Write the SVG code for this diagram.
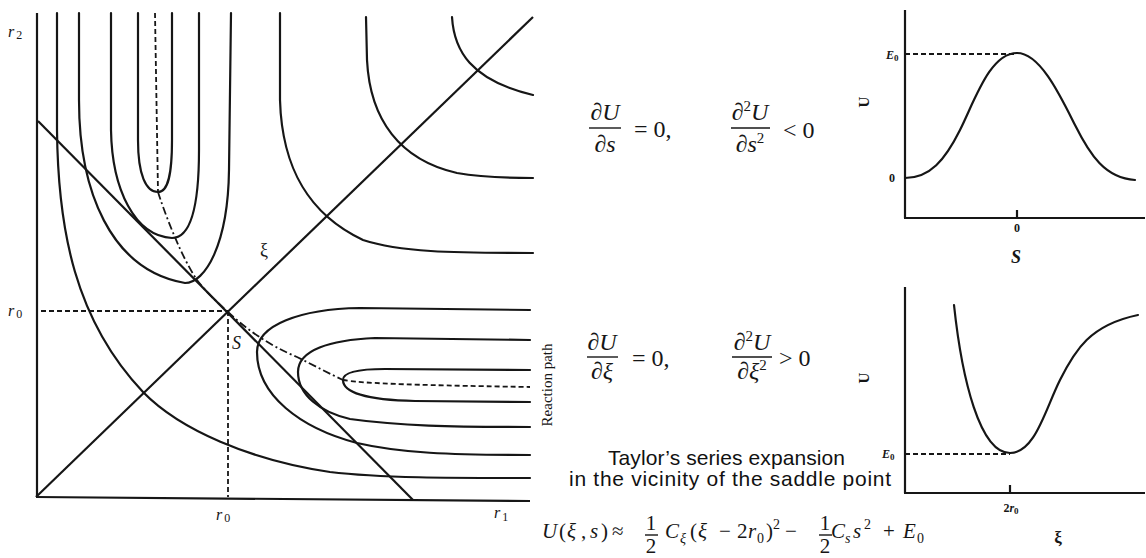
<svg xmlns="http://www.w3.org/2000/svg" width="1146" height="558" viewBox="0 0 1146 558">
<style>
.ln{fill:none;stroke:#161616;stroke-width:2.2;stroke-linecap:round}
.ax{fill:none;stroke:#161616;stroke-width:2.2}
.dash{fill:none;stroke:#161616;stroke-width:1.8;stroke-dasharray:5 3}
.dd{fill:none;stroke:#161616;stroke-width:1.8;stroke-dasharray:8 3 2 3}
.bar{stroke:#161616;stroke-width:1.4}
.serif{font-family:"Liberation Serif","Times New Roman",serif;fill:#161616}
.it{font-style:italic}
.eq{font-family:"Liberation Serif","Times New Roman",serif;font-size:24px;fill:#161616}
.eqb{font-family:"Liberation Serif","Times New Roman",serif;font-size:21px;fill:#161616}
.plbl{font-family:"Liberation Serif","Times New Roman",serif;font-weight:bold;fill:#161616}
.sans{font-family:"Liberation Sans",Arial,sans-serif;font-size:21px;fill:#111}
</style>

<g id="contour-plot">
  <line class="ax" x1="37" y1="13" x2="37" y2="497"/>
  <line class="ax" x1="36" y1="497" x2="530" y2="501"/>
  <line class="ax" x1="36" y1="497" x2="533" y2="17"/>
  <line class="ax" x1="38" y1="121" x2="413" y2="500"/>
  <line class="dash" x1="41" y1="311" x2="228" y2="311"/>
  <line class="dash" x1="228" y1="311" x2="228" y2="497"/>
  <path class="ln" d="M57,13 L57,130 C58,230 75,320 143,392 C180,430 250,460 330,472 C380,478 450,478 530,478"/>
  <path class="ln" d="M79,13 L79,100 C79,190 110,270 185,283 C205,283 228,245 229,170 L231,13"/>
  <path class="ln" d="M111,13 L111,130 C112,190 135,236 172,238 C190,238 199,210 199,150 L199,13"/>
  <path class="ln" d="M138,13 L138,140 C138,175 146,192 158,192 C168,192 172,175 172,140 L172,13"/>
  <path class="ln" d="M280,13 L280,100 C282,170 310,215 363,240 C400,252 450,253 533,253"/>
  <path class="ln" d="M366,17 L367,60 C370,120 400,160 457,173 C480,177 505,178 533,178"/>
  <path class="ln" d="M452,17 C454,50 470,80 533,95"/>
  <path class="ln" d="M530,310 L360,308 C300,309 257,325 257,352 C257,395 300,428 357,443 C400,453 450,455 530,455"/>
  <path class="ln" d="M530,340 L375,338 C330,340 298,350 298,372 C298,395 320,412 350,419 C400,426 450,427 530,427"/>
  <path class="ln" d="M530,370 L385,369 C360,369 343,372 343,380 C343,392 365,400 415,401 L530,402"/>
  <path class="dash" d="M155,13 L158,192"/>
  <path class="dd" d="M158,192 C163,208 180,255 197,280 C206,292 216,301 228,312"/>
  <path class="dd" d="M228,312 C245,328 268,345 297,357 C315,366 330,374 343,380"/>
  <path class="dash" d="M343,380 C360,383 400,385 530,387"/>
  <text class="serif it" x="8" y="37" font-size="16">r<tspan dx="2" dy="2" font-size="12" font-style="normal">2</tspan></text>
  <text class="serif it" x="8" y="316" font-size="16">r<tspan dx="2" dy="2" font-size="12" font-style="normal">0</tspan></text>
  <text class="serif it" x="216" y="520" font-size="16">r<tspan dx="2" dy="2" font-size="12" font-style="normal">0</tspan></text>
  <text class="serif it" x="494" y="518" font-size="16">r<tspan dx="2" dy="3" font-size="12" font-style="normal">1</tspan></text>
  <text class="serif it" x="232" y="349" font-size="18">S</text>
  <text class="serif" x="260" y="256" font-size="18">ξ</text>
  <text class="serif" transform="translate(552,385) rotate(-90)" text-anchor="middle" font-size="15">Reaction path</text>
</g>

<g id="eq-s">
  <text class="eq" x="605" y="120" text-anchor="middle">∂<tspan class="it">U</tspan></text>
  <line class="bar" x1="589" y1="128" x2="621" y2="128"/>
  <text class="eq" x="605" y="152" text-anchor="middle">∂<tspan class="it">s</tspan></text>
  <text class="eq" x="634" y="137">= 0,</text>
  <text class="eq" x="750" y="120" text-anchor="middle">∂<tspan dy="-9" font-size="15">2</tspan><tspan dy="9" class="it">U</tspan></text>
  <line class="bar" x1="731" y1="128" x2="770" y2="128"/>
  <text class="eq" x="750" y="152" text-anchor="middle">∂<tspan class="it">s</tspan><tspan dy="-9" font-size="15">2</tspan></text>
  <text class="eq" x="783" y="138">&lt; 0</text>
</g>

<g id="eq-xi">
  <text class="eq" x="602" y="350" text-anchor="middle">∂<tspan class="it">U</tspan></text>
  <line class="bar" x1="587" y1="357" x2="618" y2="357"/>
  <text class="eq" x="602" y="379" text-anchor="middle">∂<tspan class="it">ξ</tspan></text>
  <text class="eq" x="632" y="366">= 0,</text>
  <text class="eq" x="752" y="350" text-anchor="middle">∂<tspan dy="-9" font-size="15">2</tspan><tspan dy="9" class="it">U</tspan></text>
  <line class="bar" x1="732" y1="357" x2="772" y2="357"/>
  <text class="eq" x="752" y="379" text-anchor="middle">∂<tspan class="it">ξ</tspan><tspan dy="-9" font-size="15">2</tspan></text>
  <text class="eq" x="779" y="366">&gt; 0</text>
</g>

<g id="plot-s">
  <line class="ax" x1="905" y1="10" x2="905" y2="218"/>
  <line class="ax" x1="904" y1="218" x2="1145" y2="218"/>
  <line class="ax" x1="1017" y1="210" x2="1017" y2="218"/>
  <line class="dash" x1="905" y1="54" x2="1017" y2="54"/>
  <path class="ln" d="M905,178 C930,178 945,160 960,130 C975,100 990,53 1017,53 C1040,53 1060,95 1075,125 C1090,155 1105,178 1135,180"/>
  <text class="plbl it" x="886" y="59" font-size="12">E<tspan dy="2" font-size="9" font-style="normal">0</tspan></text>
  <text class="plbl" x="889" y="182" font-size="12">0</text>
  <text class="plbl" x="1017" y="232" font-size="12" text-anchor="middle">0</text>
  <text class="plbl it" x="1016" y="263" font-size="18" text-anchor="middle">S</text>
  <text class="plbl" transform="translate(869,102) rotate(-90)" text-anchor="middle" font-size="15">U</text>
</g>

<g id="plot-xi">
  <line class="ax" x1="905" y1="287" x2="905" y2="493"/>
  <line class="ax" x1="904" y1="493" x2="1145" y2="493"/>
  <line class="ax" x1="1010" y1="485" x2="1010" y2="493"/>
  <line class="dash" x1="905" y1="454" x2="1010" y2="454"/>
  <path class="ln" d="M954,305 C962,380 980,453 1010,453 C1035,453 1045,410 1060,380 C1075,350 1090,325 1138,315"/>
  <text class="plbl it" x="882" y="458" font-size="12">E<tspan dy="2" font-size="9" font-style="normal">0</tspan></text>
  <text class="plbl" x="1011" y="512" font-size="12" text-anchor="middle">2<tspan class="it">r</tspan><tspan dy="2" font-size="9">0</tspan></text>
  <text class="plbl" x="1058" y="543" font-size="17" text-anchor="middle">ξ</text>
  <text class="plbl" transform="translate(869,378) rotate(-90)" text-anchor="middle" font-size="15">U</text>
</g>

<g id="taylor">
  <text class="sans" x="608" y="465" textLength="237" lengthAdjust="spacing">Taylor’s series expansion</text>
  <text class="sans" x="569" y="486" textLength="322" lengthAdjust="spacing">in the vicinity of the saddle point</text>
  <text class="eqb">
    <tspan x="542" y="538" class="it">U</tspan><tspan x="559" y="538">(</tspan><tspan x="567" y="538" class="it">ξ</tspan><tspan x="581" y="538">,</tspan><tspan x="590" y="538" class="it">s</tspan><tspan x="601" y="538">)</tspan><tspan x="612" y="538">≈</tspan>
    <tspan x="665" y="538" class="it">C</tspan><tspan x="680" y="543" font-size="14" class="it">ξ</tspan><tspan x="690" y="538">(</tspan><tspan x="698" y="538" class="it">ξ</tspan><tspan x="719" y="538">−</tspan><tspan x="737" y="538">2</tspan><tspan x="748" y="538" class="it">r</tspan><tspan x="757" y="543" font-size="14">0</tspan><tspan x="766" y="538">)</tspan><tspan x="773" y="529" font-size="14">2</tspan>
    <tspan x="785" y="538">−</tspan>
    <tspan x="831" y="538" class="it">C</tspan><tspan x="845" y="543" font-size="14" class="it">s</tspan><tspan x="853" y="538" class="it">s</tspan><tspan x="864" y="529" font-size="14">2</tspan><tspan x="883" y="538">+</tspan><tspan x="903" y="538" class="it">E</tspan><tspan x="917" y="543" font-size="14">0</tspan>
  </text>
  <text class="eqb" x="651" y="530" text-anchor="middle">1</text>
  <line class="bar" x1="645" y1="535" x2="658" y2="535"/>
  <text class="eqb" x="651" y="553" text-anchor="middle">2</text>
  <text class="eqb" x="825" y="530" text-anchor="middle">1</text>
  <line class="bar" x1="819" y1="535" x2="832" y2="535"/>
  <text class="eqb" x="825" y="553" text-anchor="middle">2</text>
</g>
</svg>
